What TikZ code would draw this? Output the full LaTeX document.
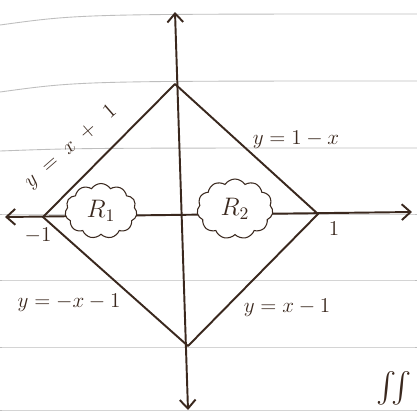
\documentclass[tikz,border=0pt]{standalone}
\usepackage{amsmath}
\usetikzlibrary{arrows.meta,shapes.symbols}
\definecolor{ink}{RGB}{58,40,30}
\definecolor{ruled}{RGB}{190,190,190}

\begin{document}
\begin{tikzpicture}[x=0.02cm,y=-0.02cm,
  inkline/.style={draw=ink,line width=1.1pt,line cap=round,line join=round},
  axisline/.style={inkline,{Straight Barb[length=5pt,width=9pt]}-{Straight Barb[length=5pt,width=9pt]}},
  lbl/.style={text=ink,font=\large,inner sep=1pt},
  blob/.style={cloud,cloud puffs=11,cloud puff arc=115,draw=ink,fill=white,line width=0.6pt,text=ink,font=\Large,inner sep=0pt}]
  \useasboundingbox (0,0) rectangle (417,414);
  \fill[white] (0,0) rectangle (417,414);
  % ruled paper
  \foreach \y/\d in {14/11,81/11,148/3,214/0,280/0,347/0,410/0}
    \draw[ruled,line width=0.5pt] (0,\y+\d) .. controls (80,\y) .. (417,\y);
  % axes
  \coordinate (xl) at (5,217);
  \coordinate (xr) at (412,212);
  \coordinate (yt) at (175,12);
  \coordinate (yb) at (188,410);
  \draw[axisline] (xl) -- (xr);
  \draw[axisline] (yt) -- (yb);
  % the square
  \coordinate (T) at (175,84);
  \coordinate (R) at (318,214);
  \coordinate (B) at (188,346);
  \coordinate (L) at (43,217);
  \draw[inkline] (T) -- (R) -- (B) -- (L) -- cycle;
  % labels
  \node[lbl,rotate=41] (eqTL) at (71,147) {$y\;=\;x\;+\;\;1$};
  \node[lbl] (eqTR) at (296,140) {$y=1-x$};
  \node[lbl] (eqBL) at (69,303) {$y=-x-1$};
  \node[lbl] (eqBR) at (287,308) {$y=x-1$};
  \node[lbl] (mone) at (38,236) {$-1$};
  \node[lbl] (one) at (334,229) {$1$};
  \node[blob,minimum width=1.44cm,minimum height=1.1cm] (R1) at (101,211) {$R_1$};
  \node[blob,minimum width=1.52cm,minimum height=1.2cm] (R2) at (235,209) {$R_2$};
  \node[lbl,font=\LARGE] (dint) at (394,388) {$\iint$};
\end{tikzpicture}
\end{document}
